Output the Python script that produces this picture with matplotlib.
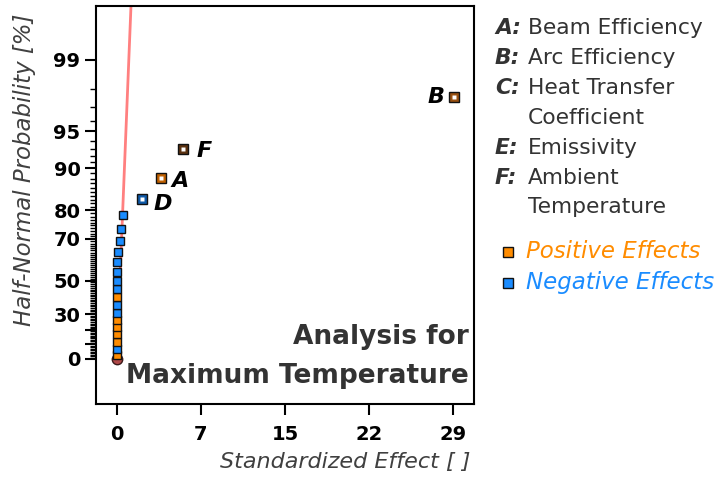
import numpy as np
import matplotlib
matplotlib.use("Agg")
import matplotlib.pyplot as plt
from statistics import NormalDist

# effects sorted by size (standardized effect, half-normal probability in %)
effects = [0.0, 0.0, 0.0, 0.0, 0.0, 0.0, 0.0, 0.0, 0.01, 0.01, 0.01,
           0.03, 0.06, 0.14, 0.26, 0.40, 0.54, 2.2, 3.8, 5.7, 29.1]
probs = [2.4, 7.1, 11.9, 16.7, 21.4, 26.2, 31.0, 35.7, 40.5, 45.2, 50.0,
         54.8, 59.5, 64.3, 69.0, 73.8, 78.6, 83.3, 88.1, 92.9, 97.6]
signs = ['+', '-', '+', '+', '+', '+', '-', '-', '+', '-', '-',
         '-', '-', '-', '-', '-', '-', '-', '+', '+', '+']
labels = [''] * 17 + ['D', 'A', 'F', 'B']
ring_colors = {'D': '#0f5aa8', 'A': '#c06000', 'F': '#5c3210', 'B': '#985010'}

y_ticks = [0, 10, 20, 30, 50, 70, 80, 90, 95, 99]
y_ticklabels = ['0', '', '', '30', '50', '70', '80', '90', '95', '99']
y_minor = list(range(1, 99))
x_ticks = [0, 7.25, 14.5, 21.75, 29]
x_ticklabels = ['0', '7', '15', '22', '29']

key_codes = ['A:', 'B:', 'C:', 'E:', 'F:']
key_names = [['Beam Efficiency'], ['Arc Efficiency'], ['Heat Transfer', 'Coefficient'],
             ['Emissivity'], ['Ambient', 'Temperature']]

orange = '#ff8c00'
blue = '#1a8cff'
nd = NormalDist()


def hn_fwd(p):
    p = np.clip(np.asarray(p, dtype=float), -99.999, 99.999)
    return np.vectorize(lambda v: nd.inv_cdf(0.5 + v / 200.0))(p)


def hn_inv(q):
    q = np.asarray(q, dtype=float)
    return np.vectorize(lambda v: (2 * nd.cdf(v) - 1) * 100.0)(q)


plt.rcParams['font.family'] = ['DejaVu Sans']

fig = plt.figure(figsize=(7.22, 4.79), dpi=100)
ax = fig.add_axes([95.7 / 722, 75 / 479, (473.5 - 95.7) / 722, (404 - 6) / 479])
ax.set_yscale('function', functions=(hn_fwd, hn_inv))
ax.set_xlim(-1.81, 30.74)
ax.set_ylim(hn_inv(-0.388), hn_inv(3.041))

# reference line (drawn in scaled space so it stays straight)
ax.plot([0, 1.23], [0, 3.041], color='#ff8080', lw=2,
        transform=ax.transLimits + ax.transAxes, zorder=2)
ax.plot([0], [0], marker='o', ms=7.5, mfc='#b04848', mec='#3a1a1a', mew=1,
        ls='none', zorder=3)

for x, p, s, lab in zip(effects, probs, signs, labels):
    if lab:
        ax.plot([x], [p], marker='s', ms=7.5, mfc=ring_colors[lab], mec='#111111',
                mew=1, ls='none', zorder=4)
        ax.plot([x], [p], marker='s', ms=3.2, mfc='white', mec='none',
                ls='none', zorder=5)
    else:
        ax.plot([x], [p], marker='s', ms=5.6, mfc=orange if s == '+' else blue,
                mec='#111111', mew=1, ls='none', zorder=4)

# point labels
offsets = {'D': (8, -4, 'left'), 'A': (8, -2.5, 'left'), 'F': (10, -1, 'left'),
           'B': (-7, 0, 'right')}
for x, p, lab in zip(effects, probs, labels):
    if lab:
        dx, dy, ha = offsets[lab]
        ax.annotate(lab, (x, p), xytext=(dx, dy), textcoords='offset points',
                    ha=ha, va='center', fontsize=16, fontweight='bold',
                    fontstyle='italic', color='black')

for txt, yy in [('Analysis for', 337), ('Maximum Temperature', 376)]:
    fig.text(469 / 722, 1 - yy / 479, txt, ha='right', va='center', fontsize=19,
             fontweight='bold', color='#333333')

ax.set_yticks(y_ticks, y_ticklabels, fontweight='bold', fontsize=14)
ax.set_yticks(y_minor, minor=True)
ax.set_xticks(x_ticks, x_ticklabels, fontweight='bold', fontsize=14)
ax.tick_params(axis='both', which='major', length=8, width=1.5, color='black')
ax.tick_params(axis='y', which='major', pad=3)
ax.tick_params(axis='x', which='major', pad=7)
ax.tick_params(axis='y', which='minor', length=4, width=1)
ax.tick_params(axis='x', which='minor', length=0)
for sp in ax.spines.values():
    sp.set_linewidth(1.5)

fig.text(25 / 722, 1 - 170 / 479, 'Half-Normal Probability [%]', rotation=90,
         ha='center', va='center', fontsize=16.5, fontstyle='italic', color='#404040')
fig.text(470 / 722, 1 - 462 / 479, 'Standardized Effect [ ]', ha='right',
         va='center', fontsize=16, fontstyle='italic', color='#404040')

# right-hand key
key_rows = [[28], [58], [88, 118], [148], [178, 207]]
for code, names, rows in zip(key_codes, key_names, key_rows):
    fig.text(495 / 722, 1 - rows[0] / 479, code, ha='left', va='center', fontsize=15.7,
             fontweight='bold', fontstyle='italic', color='#333333')
    for name, yy in zip(names, rows):
        fig.text(528 / 722, 1 - yy / 479, name, ha='left', va='center',
                 fontsize=15.7, color='#333333')

for txt, col, yy in [('Positive Effects', orange, 252), ('Negative Effects', blue, 283)]:
    fig.add_artist(plt.Line2D([508 / 722], [1 - yy / 479], marker='s', ms=6.5,
                              mfc=col, mec='#111111', mew=1, ls='none',
                              transform=fig.transFigure))
    fig.text(526 / 722, 1 - yy / 479, txt, ha='left', va='center', fontsize=16.5,
             fontstyle='italic', color=col)

fig.savefig('out.png', dpi=100)
